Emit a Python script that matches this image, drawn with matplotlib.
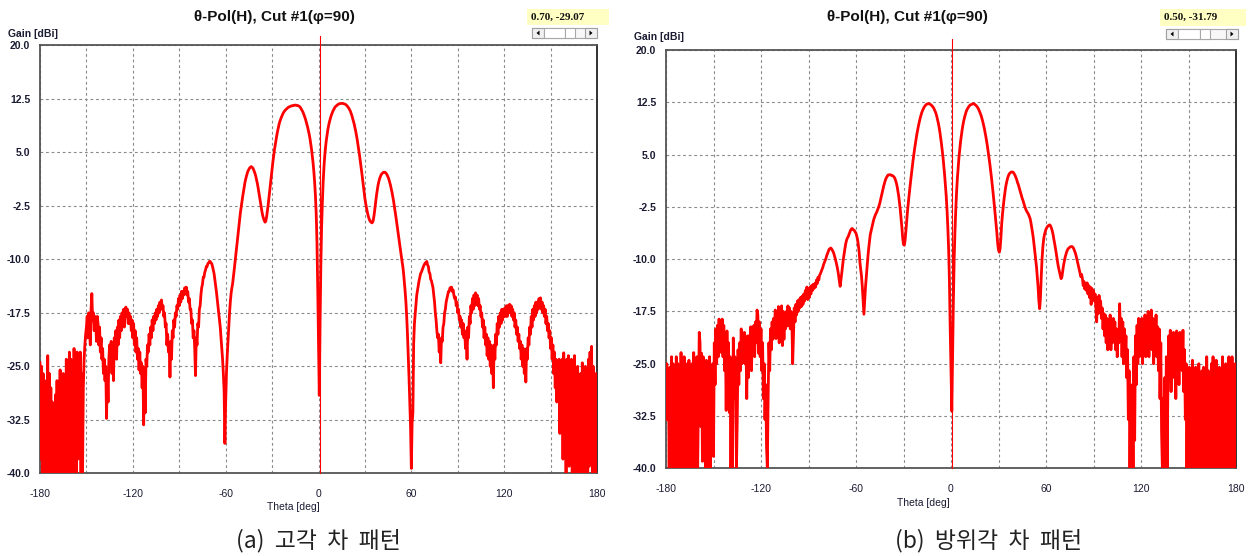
import numpy as np
import matplotlib
matplotlib.use("Agg")
import matplotlib.pyplot as plt
from matplotlib.patches import Rectangle, Polygon
from matplotlib.transforms import Affine2D

W, H = 1249, 556

# Measured theta-cut gain [dBi], sampled every 0.5 deg from -180 to 180
gain_elev = [
    -24.5, -38, -25, -40, -26, -33, -27, -40, -29, -37, -23.5, -40, -26, -39, -28, -40, -30, -35, -31, -40,
    -29, -38, -27, -40, -30, -33, -25.5, -40, -27, -36, -26, -40, -28, -38, -24, -40, -25, -34, -23, -40,
    -24, -37, -25, -40, -22.5, -33, -24, -40, -23, -38, -24.5, -36, -23, -40, -26, -40, -28, -24, -22, -20.5,
    -19.5, -18, -21, -17.5, -19.5, -22, -17, -14.8, -18.5, -17.5, -20, -18, -18.5, -21.5, -18, -19, -22, -19.5, -23, -21,
    -24, -22.5, -26, -24, -27, -25, -32.3, -26, -30, -24, -22, -25, -21.5, -26, -22, -27, -21, -23, -20, -24,
    -19.5, -22, -18.5, -21, -18, -20, -17.5, -19, -17, -19.5, -17.5, -16.7, -18, -17, -19, -17.5, -19, -18, -20, -18.5,
    -21, -19, -22, -20, -23, -21, -24, -22.5, -25.5, -23, -26, -24.5, -28, -25, -33.2, -26, -31.5, -24, -25, -22,
    -23, -20.5, -22, -19.5, -21, -18.5, -20, -18, -19, -17.5, -18.5, -17, -18, -16.5, -17.5, -16, -17, -15.7, -17, -16.5,
    -18, -17.5, -19.5, -19, -22, -20.5, -23, -22, -26.5, -21.5, -24, -20, -21, -18.5, -19.5, -17.5, -18, -16.5, -17, -15.5,
    -16.5, -15, -16, -14.5, -15.5, -14.5, -15, -14, -14.5, -13.9, -15, -14.5, -16, -15.5, -17, -17, -19, -18.5, -21, -20,
    -22.5, -26.3, -21, -22, -19, -19.5, -17, -16.5, -15, -14, -13.5, -12.5, -12.5, -11.8, -11.5, -11, -11, -10.6, -10.5, -10.3,
    -10.3, -10.5, -10.6, -11, -11.5, -12, -12.8, -13.5, -14.5, -15.5, -16.5, -17.5, -18.5, -19.5, -21, -22.5, -24, -26, -28.5, -35.8,
    -30, -26, -23.5, -21.5, -19.5, -17.5, -16, -14.8, -14, -13.4, -12.5, -11.5, -10.5, -9.5, -8.5, -7.5, -6.5, -5.5, -4.5, -3.5,
    -2.7, -2, -1.2, -0.5, 0.2, 0.8, 1.3, 1.7, 2.1, 2.4, 2.6, 2.8, 2.9, 3.0, 2.9, 2.8, 2.6, 2.3, 2.0, 1.6,
    1.1, 0.6, 0.0, -0.7, -1.4, -2.1, -2.8, -3.4, -3.9, -4.3, -4.6, -4.8, -4.6, -4.0, -3.2, -2.3, -1.3, -0.3, 0.7, 1.7,
    2.7, 3.6, 4.5, 5.3, 6.0, 6.7, 7.3, 7.9, 8.4, 8.9, 9.3, 9.6, 9.9, 10.15, 10.4, 10.6, 10.75, 10.9, 11.0, 11.1,
    11.2, 11.3, 11.35, 11.4, 11.45, 11.5, 11.5, 11.55, 11.55, 11.6, 11.6, 11.6, 11.55, 11.55, 11.5, 11.45, 11.35, 11.2, 11.0, 10.8,
    10.6, 10.3, 10.0, 9.7, 9.3, 8.9, 8.5, 8.0, 7.5, 6.9, 6.2, 5.4, 4.5, 3.5, 2.3, 0.8, -1.0, -3.5, -7.5, -14,
    -22, -29.07, -19, -11, -5.5, -2, 0.8, 2.8, 4.4, 5.6, 6.6, 7.4, 8.1, 8.7, 9.2, 9.6, 10.0, 10.3, 10.6, 10.85,
    11.05, 11.25, 11.4, 11.5, 11.6, 11.68, 11.75, 11.8, 11.82, 11.85, 11.85, 11.85, 11.82, 11.8, 11.75, 11.7, 11.6, 11.5, 11.35, 11.2,
    11.0, 10.8, 10.5, 10.2, 9.8, 9.4, 9.0, 8.5, 8.0, 7.4, 6.8, 6.1, 5.4, 4.6, 3.8, 3.0, 2.1, 1.2, 0.3, -0.6,
    -1.5, -2.2, -2.8, -3.3, -3.8, -4.2, -4.5, -4.7, -4.8, -4.9, -4.8, -4.4, -3.7, -2.8, -1.9, -1.0, -0.3, 0.4, 0.9, 1.3,
    1.6, 1.85, 2.0, 2.1, 2.2, 2.2, 2.2, 2.1, 1.95, 1.75, 1.5, 1.2, 0.8, 0.4, -0.1, -0.6, -1.2, -1.8, -2.5, -3.2,
    -4.0, -4.8, -5.6, -6.4, -7.2, -8.0, -8.7, -9.5, -10.3, -11.0, -12.0, -13.2, -14.5, -16.0, -18.0, -20.5, -23.5, -26.5, -30, -33.5,
    -39.3, -33, -31.5, -21.8, -19, -17.6, -16, -15, -14.3, -13.5, -13, -12.5, -12, -11.8, -11.5, -11.2, -10.9, -10.7, -10.5, -10.6,
    -10.3, -10.8, -11, -11.8, -12, -12.8, -13, -13.5, -14, -15, -16, -17.5, -18.5, -20, -21, -20.5, -23, -22, -24.5, -21,
    -21.5, -19.5, -19, -17.5, -17, -16, -15.5, -15, -14.5, -14.5, -14, -14.2, -13.9, -14.5, -14.3, -15, -15.5, -15.3, -16.5, -16,
    -17.5, -17, -18.5, -18, -19.5, -18.5, -20.5, -19, -21, -20, -22.5, -20.5, -24, -19.5, -21, -18, -19, -16.5, -17.5, -15.5,
    -17, -15, -16.5, -14.7, -16, -15, -16.5, -15.5, -17, -16.5, -18, -17.5, -19.5, -18.5, -21, -19.5, -22, -20.5, -23.5, -21,
    -24, -21.5, -25, -22, -26, -22.5, -28, -22, -24, -20.5, -22, -19, -20.5, -18, -19.5, -17.5, -19, -17, -18.5, -17,
    -18, -16.8, -18, -16.5, -18, -16.5, -17.5, -16.3, -17.5, -16.5, -18, -17, -18.5, -17.5, -19.5, -18.5, -20.5, -19.5, -21.5, -20.5,
    -22.5, -21.5, -24, -22, -25, -22.5, -26, -23, -27.2, -22.5, -24, -21, -22, -19.5, -20.5, -18, -19.5, -17, -18.5, -16.5,
    -18, -16, -17.5, -16, -17, -15.5, -16.5, -15.4, -17, -16, -17.5, -16.5, -18, -17, -19, -18, -20, -19, -21, -20,
    -22.5, -21, -24, -22, -26, -23, -28, -24, -30, -25, -27, -24, -34.4, -25, -33, -24, -38, -23.1, -36, -25,
    -40, -24, -31, -23.5, -39, -26, -35, -24, -40, -25, -37, -23.5, -40, -27, -32, -25, -40, -28, -38, -26,
    -40, -24.5, -33, -27, -40, -25, -36, -26, -40, -24, -39, -23, -35, -22.2, -40, -25, -38, -27, -40, -26,
    -28,
]

gain_azim = [
    -33, -25, -31, -26, -40, -25.5, -35, -24, -40, -25, -38, -26.3, -40, -24, -33, -25, -40, -26, -36, -23.4,
    -40, -25.5, -39, -24, -40, -26, -35, -25, -40, -24.5, -37, -26, -40, -25, -32, -23.4, -40, -25, -38, -24,
    -40, -30, -20.5, -22, -34, -23.5, -39, -24, -36, -26, -40, -24.5, -40, -25, -37, -24, -40, -26, -33, -25,
    -38.3, -22, -28, -20, -25, -19.5, -24, -18.6, -22, -19, -23.4, -18.6, -24, -19.5, -26, -21, -31.7, -20.3, -28, -22,
    -32, -24, -40, -26, -40, -21.3, -30, -24, -28, -40, -33, -23, -28, -22, -26, -20, -25, -21, -24, -20.5,
    -25, -22, -30, -21, -27, -21, -24.5, -19.7, -26, -20.5, -23, -19.5, -24, -19, -22, -17.3, -18, -23.5, -19, -24,
    -20, -26, -22, -30, -25, -33, -28, -37, -40, -30, -22, -26, -20, -23, -19, -21.5, -18.5, -20, -17.3, -21.4,
    -18, -20.5, -16.8, -22, -17.5, -21, -16.7, -22.4, -17.5, -21.5, -18, -20, -17.5, -19.6, -16.7, -19.5, -17, -20, -17.5, -19,
    -25, -21, -17, -19, -16.5, -18, -16, -17.5, -15.8, -17, -15.5, -16.8, -15.3, -16.5, -15, -16, -14.5, -15.5, -14, -15.8,
    -14.2, -15.5, -14, -15, -13.8, -14.5, -13.6, -14.2, -13.5, -14, -13, -13.5, -12.6, -13, -12.3, -12.1, -11.8, -11.5, -11.2, -10.8,
    -10.5, -10.2, -9.9, -9.5, -9.2, -8.9, -8.6, -8.5, -8.4, -8.5, -8.7, -8.9, -9.2, -9.6, -10, -10.5, -11, -11.6, -12.3, -13.2,
    -13.9, -13, -12, -11, -10, -9.2, -8.5, -7.8, -7.3, -7.0, -6.8, -6.5, -6.2, -5.9, -5.7, -5.6, -5.7, -5.8, -5.9, -6.1,
    -6.3, -6.7, -7.2, -8, -9, -10.5, -11.5, -12.5, -14, -16, -17.9, -16, -14, -12.5, -11, -9.7, -8.5, -7.5, -6.5, -6,
    -5.5, -5, -4.5, -4.1, -3.8, -3.5, -3.3, -3.0, -2.7, -2.4, -2.0, -1.5, -1.0, -0.5, 0, 0.5, 0.9, 1.3, 1.6, 1.8,
    2.0, 2.1, 2.1, 2.1, 2.1, 2.0, 2.0, 1.9, 1.8, 1.6, 1.3, 0.9, 0.4, -0.3, -1.0, -2.0, -3.0, -4.2, -5.5, -7,
    -7.9, -8.0, -7.3, -6, -4.5, -3.2, -2.0, -0.9, 0.2, 1.2, 2.2, 3.2, 4.1, 5.0, 5.8, 6.6, 7.3, 8.0, 8.6, 9.2,
    9.7, 10.2, 10.6, 11.0, 11.3, 11.55, 11.8, 11.95, 12.1, 12.2, 12.25, 12.3, 12.3, 12.25, 12.2, 12.1, 12.0, 11.85, 11.7, 11.45,
    11.2, 10.9, 10.5, 10.0, 9.5, 8.9, 8.2, 7.4, 6.5, 5.5, 4.5, 3.3, 2.0, 0.5, -1.0, -3, -5.5, -8.5, -13, -20,
    -26, -31.79, -24, -16, -10, -6, -3, -0.5, 1.5, 3.1, 4.5, 5.7, 6.8, 7.7, 8.5, 9.2, 9.8, 10.3, 10.7, 11.1,
    11.4, 11.6, 11.8, 11.95, 12.1, 12.15, 12.2, 12.25, 12.3, 12.3, 12.2, 12.1, 12.0, 11.85, 11.7, 11.45, 11.2, 10.9, 10.6, 10.2,
    9.8, 9.3, 8.8, 8.2, 7.6, 6.9, 6.2, 5.4, 4.6, 3.7, 2.8, 1.8, 0.8, -0.3, -1.4, -2.6, -3.8, -5.0, -6.3, -7.8,
    -8.7, -9.0, -8.5, -7, -5.0, -3.6, -2.5, -1.4, -0.5, 0.3, 0.9, 1.4, 1.8, 2.1, 2.3, 2.4, 2.5, 2.5, 2.5, 2.4,
    2.2, 2.0, 1.7, 1.4, 1.0, 0.7, 0.3, -0.1, -0.5, -0.9, -1.3, -1.6, -2.0, -2.4, -2.7, -3.0, -3.2, -3.4, -3.6, -3.9,
    -4.2, -4.8, -5.5, -6.2, -7, -8, -9, -10, -11.1, -12.5, -14, -16, -17.1, -15.5, -12.5, -10, -8.3, -7.2, -6.5, -6.1,
    -5.7, -5.5, -5.3, -5.2, -5.1, -5.1, -5.3, -5.6, -6, -6.5, -7.2, -7.8, -8.5, -9.2, -10, -10.7, -11.3, -11.8, -12.3, -12.8,
    -12.6, -11.8, -11, -10.4, -9.8, -9.4, -9, -8.7, -8.5, -8.4, -8.3, -8.2, -8.2, -8.2, -8.3, -8.5, -8.8, -9.1, -9.5, -10,
    -10.5, -11, -11.5, -12, -12.5, -12.2, -12.8, -13.8, -13.2, -14.3, -13.5, -14.5, -13.4, -15, -13.8, -15.5, -14, -16.5, -14.2, -15.5,
    -14.5, -16, -15, -17, -19, -15.5, -17.8, -15.2, -17.5, -16, -18.5, -17, -20, -17.8, -21, -18, -22, -18.5, -23, -19,
    -21.5, -18, -23, -19.5, -22, -18.5, -21, -19, -23, -20, -24, -20.5, -22, -16.4, -21, -18.5, -24, -19, -25, -20,
    -24, -21, -27, -23, -33, -26, -40, -30, -38, -28, -40, -24, -36, -21, -28, -19.5, -25, -18.5, -24, -19,
    -22, -18.5, -25, -19.5, -23, -18, -24, -19, -22.5, -17.5, -24, -18.5, -21, -17.3, -23, -18.5, -25, -19, -22, -18,
    -24, -19.7, -26, -20, -30, -22, -35, -40, -30, -40, -27, -36, -24, -40, -28, -21, -26, -20.2, -29, -21,
    -25, -20.5, -27, -21, -30, -20.3, -25, -21.5, -28, -20.5, -24, -21, -26, -20.2, -29, -23, -33, -25, -40, -26,
    -38, -25.5, -40, -26, -35, -24.5, -40, -27, -39, -25.5, -40, -26.5, -37, -25, -40, -27, -34, -26, -40, -25.5,
    -38, -27, -40, -24, -36, -26, -40, -26.5, -39, -25, -40, -24, -33, -26, -40, -24.5, -37, -26, -40, -25.5,
    -38, -27, -40, -24, -35, -26, -40, -25, -39, -27, -40, -24, -36, -25, -40, -24, -38, -26.5, -40, -25,
    -30,
]

theta_elev = np.linspace(-180, 180, len(gain_elev))
theta_azim = np.linspace(-180, 180, len(gain_azim))

# Cursor readouts (theta [deg], gain [dBi])
cursor_elev = (0.70, -29.07)
cursor_azim = (0.50, -31.79)

x_label_ticks = [-180, -120, -60, 0, 60, 120, 180]
x_grid_ticks = list(range(-180, 181, 30))
y_ticks = [20.0, 12.5, 5.0, -2.5, -10.0, -17.5, -25.0, -32.5, -40.0]

title_text = "θ-Pol(H), Cut #1(φ=90)"
caption_elev = "(a)  고각  차  패턴"
caption_azim = "(b)  방위각  차  패턴"

LATIN = ["Liberation Sans", "DejaVu Sans"]
KOREAN = ["Noto Sans CJK KR", "DejaVu Sans"]
INK = "#1b1b33"
RED = "#ff0000"

fig = plt.figure(figsize=(W / 100, H / 100), dpi=100)
fig.patch.set_facecolor("white")
# pixel coordinates with origin at top-left
PX = Affine2D().scale(1.0 / W, -1.0 / H).translate(0, 1) + fig.transFigure


def scrollbar(x0, y0, x1, y1, thumb):
    h = y1 - y0
    fig.add_artist(Rectangle((x0, y0), x1 - x0, h, transform=PX, facecolor="#f7f7f7",
                             edgecolor="#a8a8a8", lw=0.8))
    bw = 12
    for bx in (x0, x1 - bw):
        fig.add_artist(Rectangle((bx, y0), bw, h, transform=PX, facecolor="#f0f0f0",
                                 edgecolor="#a0a0a0", lw=0.8))
    cy = y0 + h / 2
    lx = x0 + bw / 2
    rx = x1 - bw / 2
    fig.add_artist(Polygon([(lx + 1.5, cy - 2.5), (lx + 1.5, cy + 2.5), (lx - 1.5, cy)],
                           closed=True, transform=PX, facecolor="black", edgecolor="none"))
    fig.add_artist(Polygon([(rx - 1.5, cy - 2.5), (rx - 1.5, cy + 2.5), (rx + 1.5, cy)],
                           closed=True, transform=PX, facecolor="black", edgecolor="none"))
    fig.add_artist(Rectangle((x0 + bw, y0), thumb - x0 - bw, h, transform=PX, facecolor="white",
                             edgecolor="#a8a8a8", lw=0.8))
    fig.add_artist(Rectangle((thumb, y0), 10, h, transform=PX, facecolor="white",
                             edgecolor="#a8a8a8", lw=0.8))


def panel(theta, gain, cursor, box, caption, cap_xy):
    left, top, right, bottom = box["axes"]
    ax = fig.add_axes([left / W, 1 - bottom / H, (right - left) / W, (bottom - top) / H])
    ax.plot(theta, gain, color=RED, lw=2.0, zorder=3)
    ax.plot([cursor[0], cursor[0]], [-40, box["cursor_top"]], color=RED, lw=0.8,
            clip_on=False, zorder=4)
    ax.set_xlim(-180, 180)
    ax.set_ylim(-40, 20)
    ax.set_xticks(x_grid_ticks)
    ax.set_xticklabels([str(v) if v in x_label_ticks else "" for v in x_grid_ticks],
                       family=LATIN, fontsize=7.5, color=INK)
    ax.set_yticks(y_ticks)
    ax.set_yticklabels([f"{v:.1f}" for v in y_ticks], family=LATIN, fontsize=7.5,
                       fontweight="bold", color=INK)
    ax.tick_params(axis="both", length=0)
    ax.tick_params(axis="y", pad=7)
    ax.tick_params(axis="x", pad=11)
    ax.grid(True, color="#8a8a8a", lw=0.8, ls=(0, (2.5, 2.5)))
    ax.set_axisbelow(True)
    for name, sp in ax.spines.items():
        sp.set_color("#555555" if name != "right" else "#222222")
        sp.set_linewidth(1.3)

    tx, ty = box["title"]
    fig.text(tx, ty, title_text, transform=PX, ha="center", va="center",
             family=LATIN, fontsize=11, fontweight="bold", color="#111111")
    gx, gy = box["gain"]
    fig.text(gx, gy, "Gain [dBi]", transform=PX, ha="left", va="center",
             family=LATIN, fontsize=7.5, fontweight="bold", color=INK)
    xx, xy = box["xlabel"]
    fig.text(xx, xy, "Theta [deg]", transform=PX, ha="center", va="center",
             family=LATIN, fontsize=7.5, color=INK)

    yx0, yy0, yx1, yy1 = box["readout"]
    fig.add_artist(Rectangle((yx0, yy0), yx1 - yx0, yy1 - yy0, transform=PX,
                             facecolor="#ffffc4", edgecolor="none"))
    fig.text(yx0 + 4, (yy0 + yy1) / 2, f"{cursor[0]:.2f}, {cursor[1]:.2f}", transform=PX,
             ha="left", va="center", family=["Liberation Serif", "DejaVu Serif"],
             fontsize=8, fontweight="bold", color="#111111")
    scrollbar(*box["scroll"])

    cx, cy = cap_xy
    fig.text(cx, cy, caption, transform=PX, ha="center", va="center",
             family=KOREAN, fontsize=16.5, color="#222222")
    return ax


panel(theta_elev, gain_elev, cursor_elev,
      {"axes": (40, 45.2, 597, 473.4), "cursor_top": 21.3, "title": (274, 17),
       "gain": (8, 34), "xlabel": (293, 507), "readout": (527, 9, 609, 25),
       "scroll": (532, 28, 597, 38, 565)},
      caption_elev, (318, 541))

panel(theta_azim, gain_azim, cursor_azim,
      {"axes": (666, 50, 1236, 468.3), "cursor_top": 21.6, "title": (907, 17),
       "gain": (634, 37), "xlabel": (923, 503), "readout": (1160, 9, 1246, 26),
       "scroll": (1166, 29, 1238, 39, 1200)},
      caption_azim, (989, 541))

fig.savefig("out.png", dpi=100)
